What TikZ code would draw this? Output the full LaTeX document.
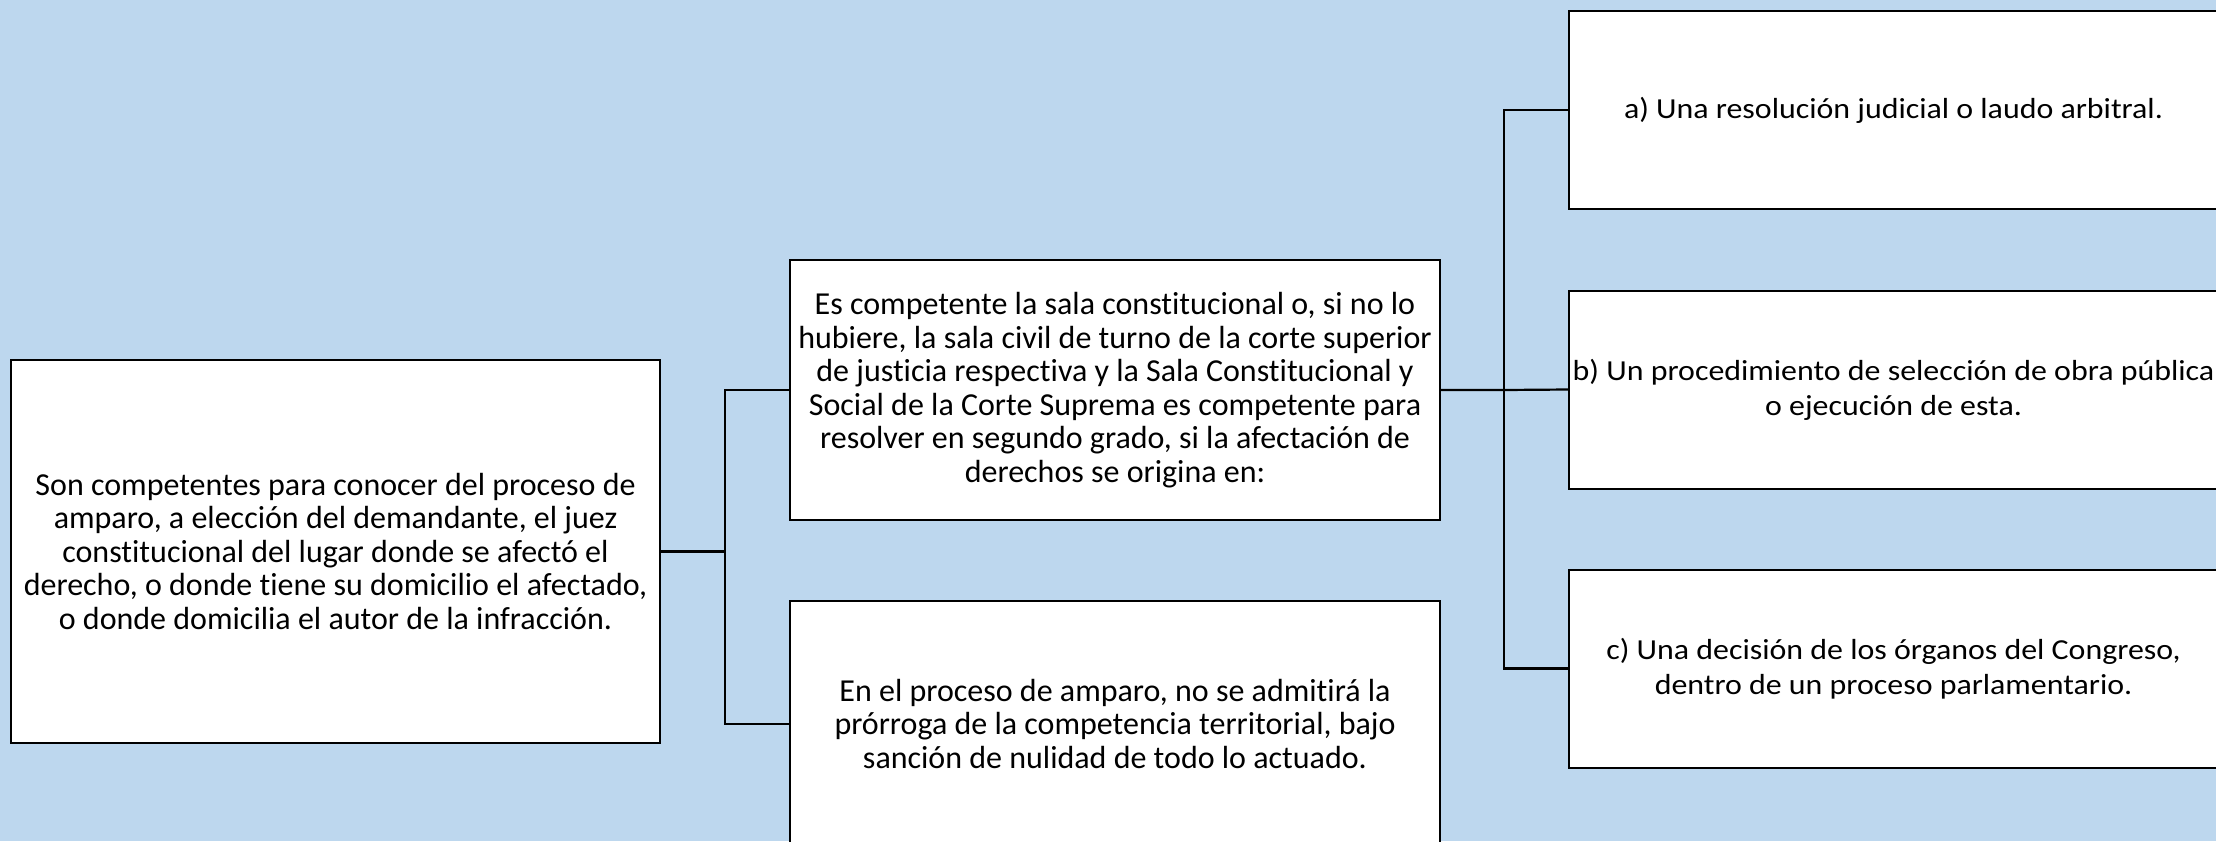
\documentclass[tikz,border=0pt]{standalone}
\usepackage{fontspec}
\setmainfont[Ligatures=NoCommon]{Carlito}
\newfontfamily\widefont[FakeStretch=1.1,Ligatures=NoCommon]{Carlito}
\definecolor{bg}{HTML}{BDD7EE}
\tikzset{
  box/.style={draw=black, fill=white, line width=2pt, inner sep=0pt, align=center,
    font=\fontsize{32}{33.5}\selectfont},
  rbox/.style={box, minimum width=649pt, minimum height=198pt,
    font=\widefont\fontsize{29}{35}\selectfont},
  conn/.style={draw=black, line width=2.2pt}
}
\begin{document}
\begin{tikzpicture}[x=1pt,y=-1pt]
\useasboundingbox (0,0) rectangle (2216,841);
\fill[bg] (0,0) rectangle (2216,841);
\begin{scope}
\clip (0,0) rectangle (2216,841);
\node[box, minimum width=649pt, minimum height=383pt] (L) at (335.5,551.5)
  {Son competentes para conocer del proceso de\\amparo, a elección del demandante, el juez\\constitucional del lugar donde se afectó el\\derecho, o donde tiene su domicilio el afectado,\\o donde domicilia el autor de la infracción.};
\node[box, minimum width=650pt, minimum height=260pt] (M1) at (1115,390)
  {Es competente la sala constitucional o, si no lo\\hubiere, la sala civil de turno de la corte superior\\de justicia respectiva y la Sala Constitucional y\\Social de la Corte Suprema es competente para\\resolver en segundo grado, si la afectación de\\derechos se origina en:};
\node[box, minimum width=650pt, minimum height=246pt] (M2) at (1115,724)
  {En el proceso de amparo, no se admitirá la\\prórroga de la competencia territorial, bajo\\sanción de nulidad de todo lo actuado.};
\node[rbox] (Ra) at (1893.5,110) {a) Una resolución judicial o laudo arbitral.};
\node[rbox] (Rb) at (1893.5,389.5) {b) Un procedimiento de selección de obra pública\\o ejecución de esta.};
\node[rbox] (Rc) at (1893.5,668.5) {c) Una decisión de los órganos del Congreso,\\dentro de un proceso parlamentario.};
\coordinate (j1) at (725,551.5);
\coordinate (j2) at (1504,390);
\draw[conn] (L.east) -- (j1);
\draw[conn] (j1) |- (M1.west);
\draw[conn] (j1) |- (M2.west);
\draw[conn] (M1.east) -- (j2) -- (Rb.west);
\draw[conn] (j2) |- (Ra.west);
\draw[conn] (j2) |- (Rc.west);
\end{scope}
\end{tikzpicture}
\end{document}
